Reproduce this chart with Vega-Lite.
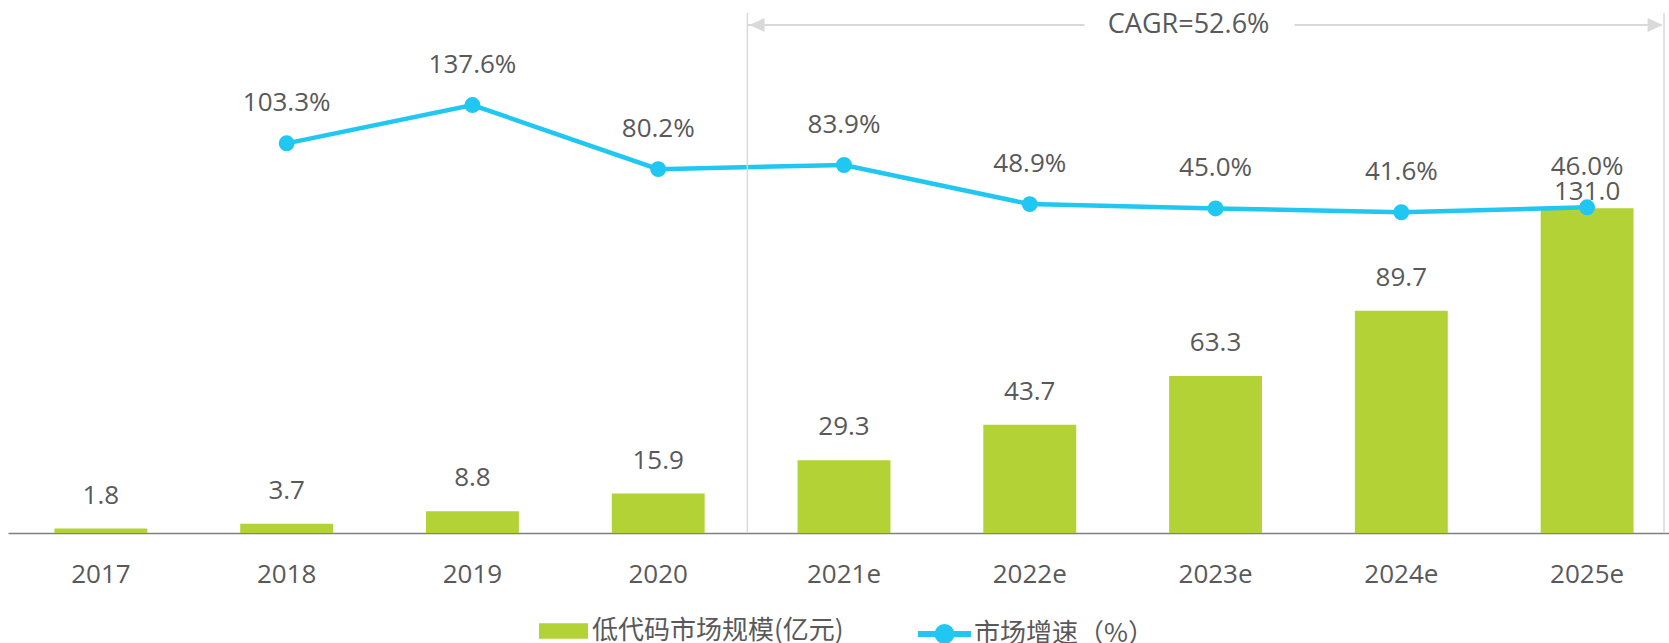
{
  "$schema": "https://vega.github.io/schema/vega-lite/v6.json",
  "width": 1659,
  "height": 533,
  "autosize": {"type": "none"},
  "padding": {"left": 8, "top": 0, "right": 2, "bottom": 110},
  "background": "white",
  "config": {"view": {"stroke": null}, "font": "Open Sans"},
  "data": {
    "values": [
      {"year": "2017", "size": 1.8, "growth": null},
      {"year": "2018", "size": 3.7, "growth": 1.033},
      {"year": "2019", "size": 8.8, "growth": 1.376},
      {"year": "2020", "size": 15.9, "growth": 0.802},
      {"year": "2021e", "size": 29.3, "growth": 0.839},
      {"year": "2022e", "size": 43.7, "growth": 0.489},
      {"year": "2023e", "size": 63.3, "growth": 0.450},
      {"year": "2024e", "size": 89.7, "growth": 0.416},
      {"year": "2025e", "size": 131.0, "growth": 0.460}
    ]
  },
  "encoding": {
    "x": {
      "field": "year",
      "type": "ordinal",
      "sort": null,
      "scale": {
        "type": "band",
        "domain": ["2017", "2018", "2019", "2020", "2021e", "2022e", "2023e", "2024e", "2025e"],
        "paddingInner": 0,
        "paddingOuter": 0,
        "range": [0, 1672]
      },
      "axis": {
        "title": null,
        "labelAngle": 0,
        "labelFont": "Open Sans",
        "labelFontSize": 26,
        "labelColor": "#595959",
        "labelPadding": 28,
        "ticks": false,
        "domainColor": "#808080",
        "domainWidth": 1.3,
        "grid": false
      }
    }
  },
  "layer": [
    {
      "mark": {"type": "bar", "width": {"band": 0.5}},
      "encoding": {
        "y": {"field": "size", "type": "quantitative", "scale": {"domain": [0, 215], "nice": false}, "axis": null},
        "fill": {
          "datum": "低代码市场规模(亿元)",
          "type": "nominal",
          "scale": {"range": ["#B2D235"]},
          "legend": {
            "title": null,
            "orient": "none",
            "legendX": 531,
            "legendY": 606.5,
            "padding": 0,
            "offset": 0,
            "symbolType": "M-1,-0.314H1V0.314H-1Z",
            "symbolSize": 2401,
            "symbolStrokeWidth": 0,
            "labelFont": "Noto Sans CJK SC",
            "labelFontSize": 26,
            "labelColor": "#595959",
            "labelOffset": 4,
            "labelLimit": 500
          }
        }
      }
    },
    {
      "transform": [{"filter": "datum.year !== '2025e'"}],
      "mark": {"type": "text", "dy": -25, "baseline": "alphabetic", "fontSize": 26, "color": "#595959", "font": "Open Sans"},
      "encoding": {
        "y": {"field": "size", "type": "quantitative", "scale": {"domain": [0, 215], "nice": false}, "axis": null},
        "text": {"field": "size", "type": "quantitative", "format": ".1f"}
      }
    },
    {
      "transform": [{"filter": "datum.year === '2025e'"}],
      "mark": {"type": "text", "dy": -8, "baseline": "alphabetic", "fontSize": 26, "color": "#595959", "font": "Open Sans"},
      "encoding": {
        "y": {"field": "size", "type": "quantitative", "scale": {"domain": [0, 215], "nice": false}, "axis": null},
        "text": {"field": "size", "type": "quantitative", "format": ".1f"}
      }
    },
    {
      "mark": {"type": "line", "strokeWidth": 4.5},
      "encoding": {
        "y": {"field": "growth", "type": "quantitative", "scale": {"domain": [-2.455, 2.316], "nice": false, "zero": false}, "axis": null},
        "stroke": {
          "datum": "市场增速（%）",
          "type": "nominal",
          "scale": {"range": ["#1FC7F1"]},
          "legend": {
            "title": null,
            "orient": "none",
            "legendX": 907,
            "legendY": 604.5,
            "padding": 0,
            "offset": 0,
            "symbolType": "M-1,0H1M0.264,0A0.264,0.264,0,1,1,-0.264,0A0.264,0.264,0,1,1,0.264,0",
            "symbolSize": 2809,
            "symbolStrokeWidth": 6,
            "symbolFillColor": "#1FC7F1",
            "symbolStrokeColor": "#1FC7F1",
            "labelFont": "Noto Sans CJK SC",
            "labelFontSize": 26,
            "labelColor": "#595959",
            "labelOffset": 0,
            "labelLimit": 500
          }
        }
      }
    },
    {
      "mark": {"type": "point", "filled": true, "size": 254, "color": "#1FC7F1", "opacity": 1},
      "encoding": {
        "y": {"field": "growth", "type": "quantitative", "scale": {"domain": [-2.455, 2.316], "nice": false, "zero": false}, "axis": null}
      }
    },
    {
      "mark": {"type": "text", "dy": -32, "baseline": "alphabetic", "fontSize": 26, "color": "#595959", "font": "Open Sans"},
      "encoding": {
        "y": {"field": "growth", "type": "quantitative", "scale": {"domain": [-2.455, 2.316], "nice": false, "zero": false}, "axis": null},
        "text": {"field": "growth", "type": "quantitative", "format": ".1%"}
      }
    },
    {
      "data": {"values": [{}]},
      "mark": {"type": "rule", "color": "#D9D9D9", "strokeWidth": 1.5},
      "encoding": {
        "x": {"datum": "2021e", "type": "ordinal", "bandPosition": -0.02},
        "y": {"datum": 2.2, "type": "quantitative", "scale": {"domain": [-2.455, 2.316], "nice": false, "zero": false}, "axis": null},
        "y2": {"datum": -2.455}
      }
    },
    {
      "data": {"values": [{}]},
      "mark": {"type": "rule", "color": "#D9D9D9", "strokeWidth": 1.5},
      "encoding": {
        "x": {"datum": "2025e", "type": "ordinal", "bandPosition": 0.914},
        "y": {"datum": 2.2, "type": "quantitative", "scale": {"domain": [-2.455, 2.316], "nice": false, "zero": false}, "axis": null},
        "y2": {"datum": -2.455}
      }
    },
    {
      "data": {"values": [{}]},
      "mark": {"type": "rule", "color": "#D9D9D9", "strokeWidth": 2},
      "encoding": {
        "x": {"datum": "2021e", "type": "ordinal", "bandPosition": -0.02},
        "x2": {"datum": "2022e", "bandPosition": 0.795},
        "y": {"datum": 2.092, "type": "quantitative", "scale": {"domain": [-2.455, 2.316], "nice": false, "zero": false}, "axis": null}
      }
    },
    {
      "data": {"values": [{}]},
      "mark": {"type": "rule", "color": "#D9D9D9", "strokeWidth": 2},
      "encoding": {
        "x": {"datum": "2023e", "type": "ordinal", "bandPosition": 0.925},
        "x2": {"datum": "2025e", "bandPosition": 0.9},
        "y": {"datum": 2.092, "type": "quantitative", "scale": {"domain": [-2.455, 2.316], "nice": false, "zero": false}, "axis": null}
      }
    },
    {
      "data": {"values": [{}]},
      "mark": {"type": "point", "shape": "M-1,0L1,-0.93L1,0.93Z", "size": 225, "filled": true, "color": "#D9D9D9", "opacity": 1},
      "encoding": {
        "x": {"datum": "2021e", "type": "ordinal", "bandPosition": 0.032},
        "y": {"datum": 2.092, "type": "quantitative", "scale": {"domain": [-2.455, 2.316], "nice": false, "zero": false}, "axis": null}
      }
    },
    {
      "data": {"values": [{}]},
      "mark": {"type": "point", "shape": "M1,0L-1,-0.93L-1,0.93Z", "size": 225, "filled": true, "color": "#D9D9D9", "opacity": 1},
      "encoding": {
        "x": {"datum": "2025e", "type": "ordinal", "bandPosition": 0.866},
        "y": {"datum": 2.092, "type": "quantitative", "scale": {"domain": [-2.455, 2.316], "nice": false, "zero": false}, "axis": null}
      }
    },
    {
      "data": {"values": [{"label": "CAGR=52.6%"}]},
      "mark": {"type": "text", "baseline": "middle", "align": "center", "fontSize": 27, "color": "#595959", "font": "Open Sans"},
      "encoding": {
        "x": {"datum": "2023e", "type": "ordinal", "bandPosition": 0.355},
        "y": {"datum": 2.092, "type": "quantitative", "scale": {"domain": [-2.455, 2.316], "nice": false, "zero": false}, "axis": null},
        "text": {"field": "label", "type": "nominal"}
      }
    }
  ],
  "resolve": {"scale": {"y": "independent"}}
}
